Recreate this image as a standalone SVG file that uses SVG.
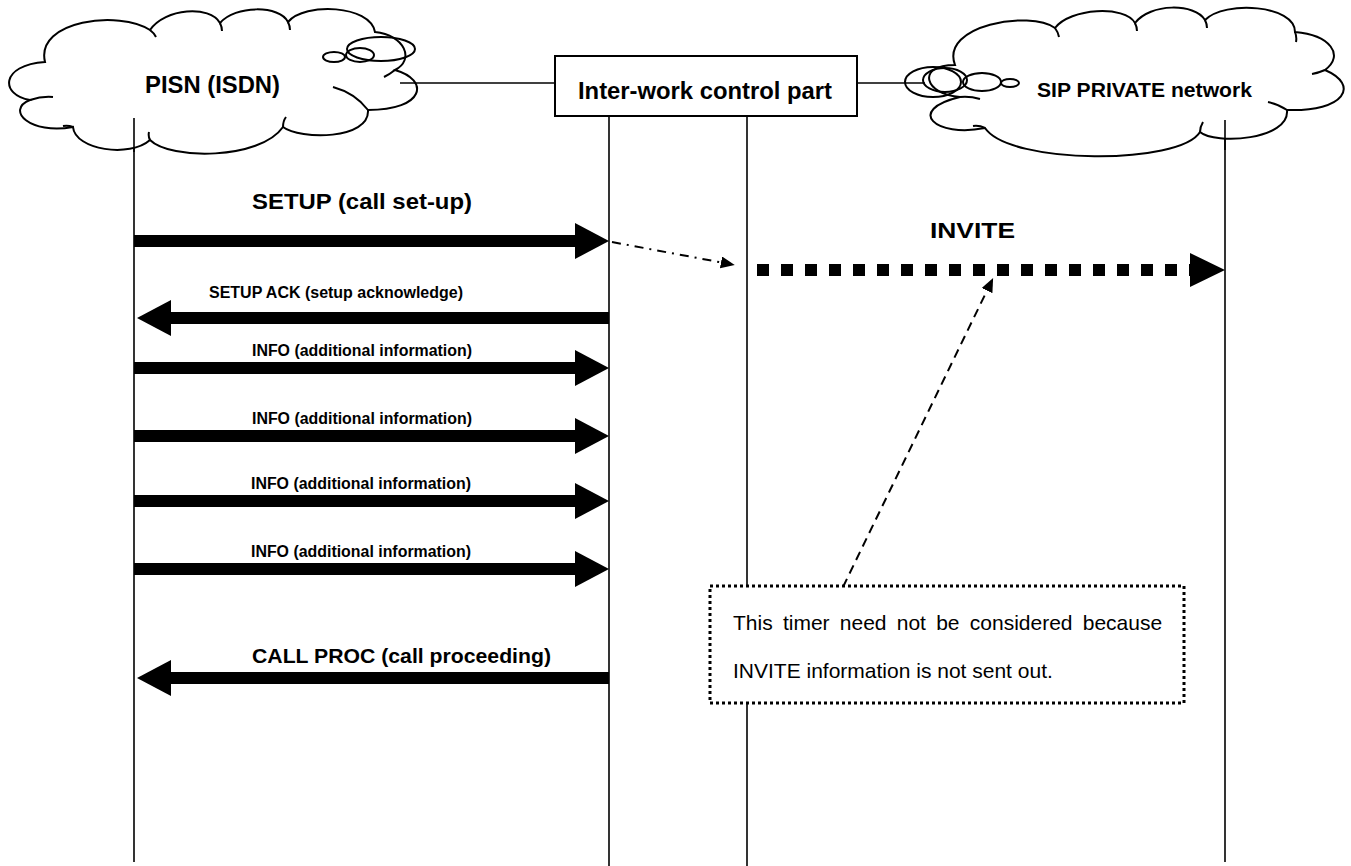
<svg xmlns="http://www.w3.org/2000/svg" width="1351" height="866" viewBox="0 0 1351 866">
<style>
.cloud{fill:#fff;stroke:#000;stroke-width:2}
.bub{fill:none;stroke:#000;stroke-width:2}
.hook{fill:none;stroke:#000;stroke-width:2}
.life{stroke:#000;stroke-width:1.6}
.thin{stroke:#000;stroke-width:1.5}
.big{stroke:#000;stroke-width:12}
.lbl{font-family:"Liberation Sans",Arial,sans-serif;font-weight:bold;fill:#000}
.note{font-family:"Liberation Sans",Arial,sans-serif;font-size:21px;fill:#000}
</style>
<defs>
<marker id="bigHead" markerUnits="userSpaceOnUse" markerWidth="36" markerHeight="36" refX="0" refY="18" orient="auto"><path d="M0,0 L34,18 L0,36 z" fill="#000"/></marker>
<marker id="invHead" markerUnits="userSpaceOnUse" markerWidth="36" markerHeight="36" refX="0" refY="17" orient="auto"><path d="M0,0 L35,17 L0,34 z" fill="#000"/></marker>
<marker id="smallHead" markerUnits="userSpaceOnUse" markerWidth="15" markerHeight="13" refX="0" refY="6" orient="auto"><path d="M0,0 L14,6 L0,12 z" fill="#000"/></marker>
</defs>
<rect width="1351" height="866" fill="#fff"/>
<g id="lifelines">
<line class="life" x1="134" y1="118" x2="134" y2="862"/>
<line class="life" x1="609" y1="116" x2="609" y2="866"/>
<line class="life" x1="747" y1="116" x2="747" y2="866"/>
<line class="life" x1="1225" y1="120" x2="1225" y2="862"/>
</g>
<g id="pisn">
<path class="cloud" d="M45,62 C35,20 120,10 150,30 C165,8 210,5 220,23 C235,5 280,5 288,22 C305,2 370,5 375,32 C405,35 415,60 395,70 C430,80 425,110 368,110 C370,140 300,140 283,127 C260,160 170,160 150,140 C130,158 75,150 73,127 C30,135 5,110 30,100 C0,95 0,65 45,62 Z"/>
<path class="hook" d="M30,100 Q42,96 53,97 M150,30 Q154,33 156,37 M220,23 Q222,27 222,31 M288,22 Q290,26 290,30 M395,70 Q390,74 384,77 M368,110 Q355,93 333,87 M283,127 Q283,121 286,117 M73,127 Q68,125 63,126 M150,140 Q148,136 149,132"/>
<line class="life" x1="134" y1="118" x2="134" y2="152"/>
<ellipse class="bub" cx="381" cy="49" rx="34" ry="12"/>
<ellipse class="bub" cx="360" cy="55" rx="14" ry="7"/>
<ellipse class="bub" cx="334" cy="57" rx="11" ry="5"/>
<text class="lbl" x="145" y="93" font-size="23" textLength="135" lengthAdjust="spacingAndGlyphs">PISN (ISDN)</text>
</g>
<g id="sip">
<path class="cloud" d="M955,65 C940,25 1030,10 1055,28 C1070,8 1125,5 1135,23 C1150,3 1195,3 1205,20 C1225,0 1295,5 1295,32 C1330,35 1345,55 1325,70 C1360,85 1345,112 1287,110 C1290,140 1215,145 1200,132 C1180,165 1010,165 985,128 C935,138 905,110 960,97 C925,95 915,65 955,65 Z"/>
<path class="hook" d="M960,97 Q970,96 980,99 M985,128 Q979,125 973,126 M1200,132 Q1200,127 1203,122 M1287,110 Q1278,104 1268,102 M1325,70 Q1318,73 1312,74 M1295,32 Q1297,37 1296,42 M1055,28 Q1058,32 1059,37 M1135,23 Q1137,27 1137,31 M1205,20 Q1207,24 1207,28"/>
<line class="life" x1="1225" y1="120" x2="1225" y2="150"/>
<ellipse class="bub" cx="933" cy="82" rx="28" ry="15"/>
<ellipse class="bub" cx="945" cy="80" rx="22" ry="12"/>
<ellipse class="bub" cx="982" cy="82" rx="19" ry="9"/>
<ellipse class="bub" cx="1010" cy="83" rx="9" ry="4"/>
<text class="lbl" x="1037" y="97" font-size="20" textLength="215" lengthAdjust="spacingAndGlyphs">SIP PRIVATE network</text>
</g>
<g id="iwcp">
<line class="thin" x1="400" y1="83" x2="555" y2="83"/>
<line class="thin" x1="857" y1="83" x2="925" y2="83"/>
<rect x="555" y="56" width="302" height="60" fill="#fff" stroke="#000" stroke-width="2"/>
<text class="lbl" x="578" y="99" font-size="24" textLength="254" lengthAdjust="spacingAndGlyphs">Inter-work control part</text>
</g>
<g id="connectors">
<line class="big" x1="134" y1="241" x2="575" y2="241" marker-end="url(#bigHead)"/>
<line class="big" x1="609" y1="318" x2="171" y2="318" marker-end="url(#bigHead)"/>
<line class="big" x1="134" y1="368" x2="575" y2="368" marker-end="url(#bigHead)"/>
<line class="big" x1="134" y1="436" x2="575" y2="436" marker-end="url(#bigHead)"/>
<line class="big" x1="134" y1="501" x2="575" y2="501" marker-end="url(#bigHead)"/>
<line class="big" x1="134" y1="569" x2="575" y2="569" marker-end="url(#bigHead)"/>
<line class="big" x1="609" y1="678" x2="171" y2="678" marker-end="url(#bigHead)"/>
<line x1="757" y1="270" x2="1190" y2="270" stroke="#000" stroke-width="12" stroke-dasharray="12 12" marker-end="url(#invHead)"/>
<line x1="612" y1="242" x2="721" y2="262.4" stroke="#000" stroke-width="2" stroke-dasharray="9 6 2 6" marker-end="url(#smallHead)"/>
<line x1="843" y1="587" x2="987" y2="290.6" stroke="#000" stroke-width="2" stroke-dasharray="9 6" marker-end="url(#smallHead)"/>
</g>
<g id="labels">
<text class="lbl" x="252" y="209" font-size="22" textLength="220" lengthAdjust="spacingAndGlyphs">SETUP (call set-up)</text>
<text class="lbl" x="930" y="238" font-size="22" textLength="85" lengthAdjust="spacingAndGlyphs">INVITE</text>
<text class="lbl" x="209" y="298" font-size="16" textLength="254" lengthAdjust="spacingAndGlyphs">SETUP ACK (setup acknowledge)</text>
<text class="lbl" x="252" y="356" font-size="16" textLength="220" lengthAdjust="spacingAndGlyphs">INFO (additional information)</text>
<text class="lbl" x="252" y="424" font-size="16" textLength="220" lengthAdjust="spacingAndGlyphs">INFO (additional information)</text>
<text class="lbl" x="251" y="489" font-size="16" textLength="220" lengthAdjust="spacingAndGlyphs">INFO (additional information)</text>
<text class="lbl" x="251" y="557" font-size="16" textLength="220" lengthAdjust="spacingAndGlyphs">INFO (additional information)</text>
<text class="lbl" x="252" y="663" font-size="21" textLength="299" lengthAdjust="spacingAndGlyphs">CALL PROC (call proceeding)</text>
</g>
<g id="note">
<rect x="710" y="586" width="474" height="117" fill="#fff" stroke="#000" stroke-width="3" stroke-dasharray="3 3"/>
<text class="note" x="733" y="630" word-spacing="4.4">This timer need not be considered because</text>
<text class="note" x="733" y="678">INVITE information is not sent out.</text>
</g>
</svg>
